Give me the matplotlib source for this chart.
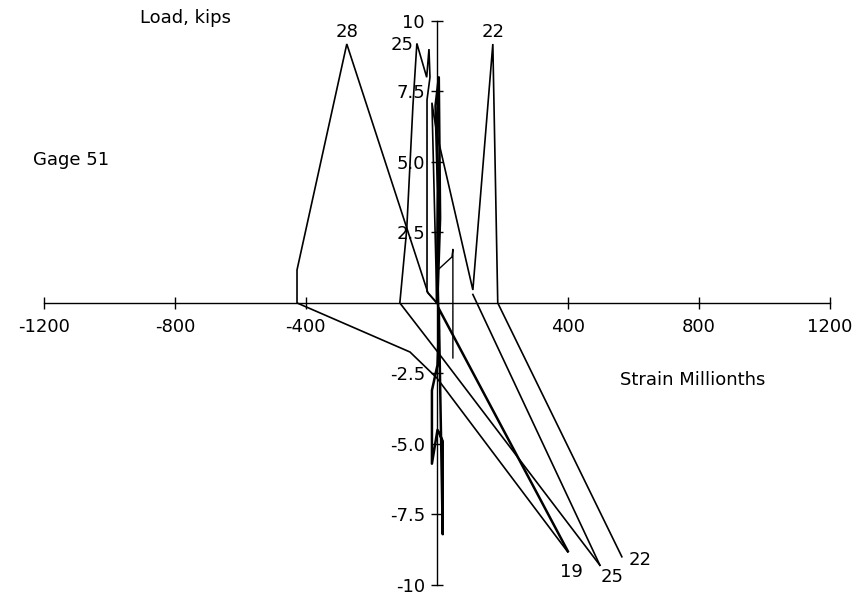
import matplotlib
matplotlib.use("Agg")
import matplotlib.pyplot as plt

# Gage 51: strain (millionths) vs. load (kips) for each specimen
strain_28 = [0, -27, -275, -427, -427, -82, 0, 400]
load_28 = [0, 0.35, 9.18, 1.17, 0, -1.74, -2.66, -8.83]

strain_25 = [0, -30, -30, -21, -24, -31, -61, -73, -92, -113, 0, 498]
load_25 = [0, 0.4, 7.2, 8.0, 9.0, 8.0, 9.2, 7.0, 2.6, 0, -1.7, -9.3]

strain_22 = [0, -15, 0, 110, 171, 186, 565]
load_22 = [0, 7.1, 6.0, 0.46, 9.18, 0, -9.0]

strain_19 = [0, 3, -4, 6, 10, 3, 6, 2, -15, -15, 2, 18, 18, 6, 400]
load_19 = [0, 4.0, 7.0, 8.0, 3.0, 0.5, -1.0, -2.2, -3.1, -5.7, -4.5, -4.9, -8.2, -0.2, -8.8]

strain_19b = [3, 46, 49, 49]
load_19b = [1.17, 1.63, 1.9, -1.95]

strain_extra = [110, 498]
load_extra = [0.3, -9.3]

x_ticks = [-1200, -800, -400, 400, 800, 1200]
x_tick_labels = ["-1200", "-800", "-400", "400", "800", "1200"]
y_ticks = [10, 7.5, 5.0, 2.5, -2.5, -5.0, -7.5, -10]
y_tick_labels = ["10", "7.5", "5.0", "2.5", "-2.5", "-5.0", "-7.5", "-10"]

fig = plt.figure(figsize=(8.56, 5.96), dpi=100)
ax = fig.add_axes([0, 0, 1, 1])
ax.set_xlim(-1334, 1280)
ax.set_ylim(-10.39, 10.74)

for side in ("top", "right"):
    ax.spines[side].set_visible(False)
ax.spines["left"].set_position(("data", 0))
ax.spines["bottom"].set_position(("data", 0))
ax.spines["left"].set_bounds(-10, 10)
ax.spines["bottom"].set_bounds(-1200, 1200)
for side in ("left", "bottom"):
    ax.spines[side].set_linewidth(1.0)
    ax.spines[side].set_color("black")

ax.set_xticks(x_ticks)
ax.set_xticklabels(x_tick_labels)
ax.set_yticks(y_ticks)
ax.set_yticklabels(y_tick_labels)
ax.tick_params(axis="x", direction="inout", length=9, width=1.0, labelsize=13, pad=6)
ax.tick_params(axis="y", direction="inout", length=9, width=1.0, labelsize=13, pad=4)
for lbl in ax.get_yticklabels():
    lbl.set_bbox(dict(facecolor="white", edgecolor="none", pad=0.5))
    lbl.set_zorder(5)
ax.patch.set_visible(False)

line_kw = dict(color="black", linewidth=1.2, solid_joinstyle="miter", zorder=2)
ax.plot(strain_28, load_28, **line_kw)
ax.plot(strain_25, load_25, **line_kw)
ax.plot(strain_22, load_22, **line_kw)
ax.plot(strain_19, load_19, color="black", linewidth=1.8, zorder=2)
ax.plot(strain_19b, load_19b, color="black", linewidth=1.0, zorder=2)
ax.plot(strain_extra, load_extra, **line_kw)

txt = dict(fontsize=13, color="black")
ax.text(-275, 9.6, "28", ha="center", va="center", **txt)
ax.text(-107, 9.15, "25", ha="center", va="center", **txt)
ax.text(171, 9.6, "22", ha="center", va="center", **txt)
ax.text(412, -9.55, "19", ha="center", va="center", **txt)
ax.text(534, -9.72, "25", ha="center", va="center", **txt)
ax.text(620, -9.1, "22", ha="center", va="center", **txt)

ax.text(-907, 10.1, "Load, kips", ha="left", va="center", **txt)
ax.text(-1233, 5.07, "Gage 51", ha="left", va="center", **txt)
ax.text(559, -2.73, "Strain Millionths", ha="left", va="center", **txt)

fig.savefig("out.png", dpi=100)
